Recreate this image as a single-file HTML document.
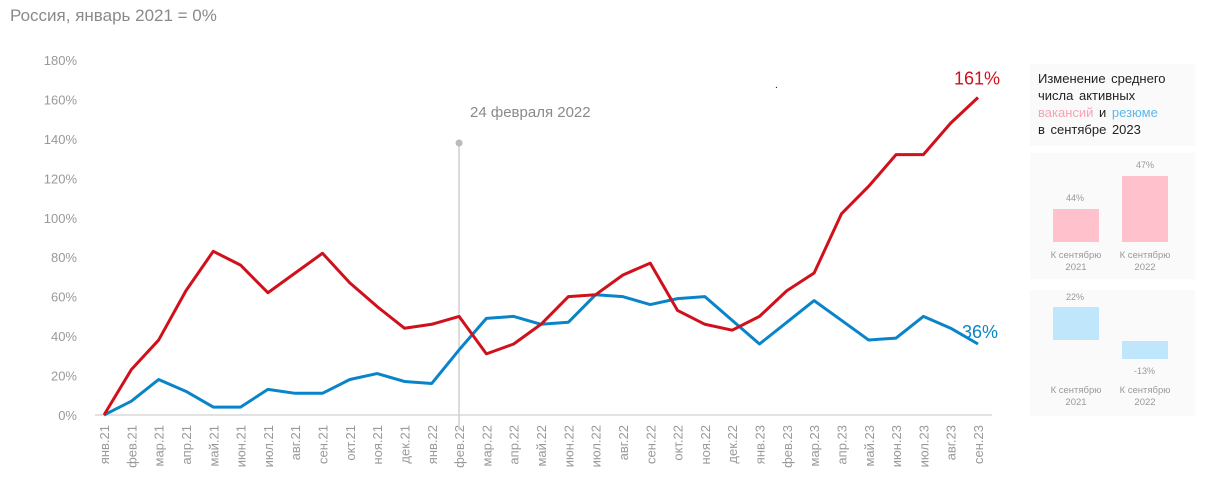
<!DOCTYPE html>
<html><head><meta charset="utf-8"><style>
body{margin:0;width:1215px;height:493px;background:#fff;font-family:"Liberation Sans",sans-serif;overflow:hidden;position:relative}
.t{position:absolute;white-space:nowrap}
.panel{position:absolute;left:1030px;width:165px;background:#fafafa}
.cat{position:absolute;font-size:9.5px;color:#999;text-align:center;width:66px;line-height:12px;white-space:normal}
</style></head><body>
<div class="t" style="left:10px;top:6px;font-size:17px;color:#8a8a8a">Россия, январь 2021 = 0%</div>
<svg id="c" width="1215" height="493" style="position:absolute;left:0;top:0"></svg>
<div class="panel" style="top:64px;height:82px">
<div style="padding:6px 8px;font-size:13px;line-height:17px;color:#222;word-spacing:2px">Изменение среднего<br>числа активных<br><span style="color:#f7a3b4">вакансий</span> и <span style="color:#5ab8ef">резюме</span><br>в сентябре 2023</div></div>
<div class="panel" style="top:153px;height:126px"></div>
<div class="panel" style="top:290px;height:126px"></div>
<div style="position:absolute;left:1053px;top:209px;width:46px;height:33px;background:#ffc2cc"></div>
<div style="position:absolute;left:1122px;top:176px;width:46px;height:66px;background:#ffc2cc"></div>
<div style="position:absolute;left:1053px;top:307px;width:46px;height:33px;background:#bfe6fb"></div>
<div style="position:absolute;left:1122px;top:341px;width:46px;height:18px;background:#bfe6fb"></div>
<div class="t" style="left:1066px;top:193px;font-size:9px;color:#999">44%</div>
<div class="t" style="left:1136px;top:160px;font-size:9px;color:#999">47%</div>
<div class="t" style="left:1066px;top:292px;font-size:9px;color:#999">22%</div>
<div class="t" style="left:1134px;top:366px;font-size:9px;color:#999">-13%</div>
<div class="cat" style="left:1043px;top:250px">К сентябрю 2021</div>
<div class="cat" style="left:1112px;top:250px">К сентябрю 2022</div>
<div class="cat" style="left:1043px;top:385px">К сентябрю 2021</div>
<div class="cat" style="left:1112px;top:385px">К сентябрю 2022</div>
<div class="t" style="left:775px;top:80px;font-size:10px;color:#000">.</div>
<script>
const months=["янв.21","фев.21","мар.21","апр.21","май.21","июн.21","июл.21","авг.21","сен.21","окт.21","ноя.21","дек.21","янв.22","фев.22","мар.22","апр.22","май.22","июн.22","июл.22","авг.22","сен.22","окт.22","ноя.22","дек.22","янв.23","фев.23","мар.23","апр.23","май.23","июн.23","июл.23","авг.23","сен.23"];
const vacancies=[0,23,38,63,83,76,62,72,82,67,55,44,46,50,31,36,46,60,61,71,77,53,46,43,50,63,72,102,116,132,132,148,161];
const resumes=[0,7,18,12,4,4,13,11,11,18,21,17,16,33,49,50,46,47,61,60,56,59,60,48,36,47,58,48,38,39,50,44,36];
const yTicks=[0,20,40,60,80,100,120,140,160,180];
const NS="http://www.w3.org/2000/svg",svg=document.getElementById('c');
const x=i=>104+i*(978-104)/(months.length-1), y=v=>415-v*(355/180);
function mk(t,a){const e=document.createElementNS(NS,t);for(const k in a)e.setAttribute(k,a[k]);svg.appendChild(e);return e;}
yTicks.forEach(v=>{const e=mk('text',{x:77,y:y(v)+5,'text-anchor':'end','font-size':13,fill:'#999'});e.textContent=v+'%';

});
const ax=mk('line',{x1:95,x2:992,y1:415,y2:415,stroke:'#d8d8d8','stroke-width':1.5});


months.forEach((m,i)=>{const e=mk('text',{transform:`translate(${x(i)+5},425) rotate(-90)`,'text-anchor':'end','font-size':13,fill:'#999'});e.textContent=m;

});
const ev=mk('line',{x1:x(13),x2:x(13),y1:143,y2:430,stroke:'#d0d0d0','stroke-width':1.5});


mk('circle',{cx:x(13),cy:143,r:3.5,fill:'#bbb'});
const el=mk('text',{x:470,y:117,'font-size':15,fill:'#8a8a8a'});el.textContent='24 февраля 2022';


function line(d,c,n){const p=mk('polyline',{points:d.map((v,i)=>x(i)+','+y(v)).join(' '),fill:'none',stroke:c,'stroke-width':3,'stroke-linejoin':'round'});

}
line(resumes,'#0a84c9','resumes-line');
line(vacancies,'#d0111b','vacancies-line');
const l1=mk('text',{x:1000,y:y(vacancies[32])-13,'text-anchor':'end','font-size':18,fill:'#d0111b'});l1.textContent=vacancies[32]+'%';


const l2=mk('text',{x:998,y:y(resumes[32])-6,'text-anchor':'end','font-size':18,fill:'#0a84c9'});l2.textContent=resumes[32]+'%';


</script>
</body></html>
